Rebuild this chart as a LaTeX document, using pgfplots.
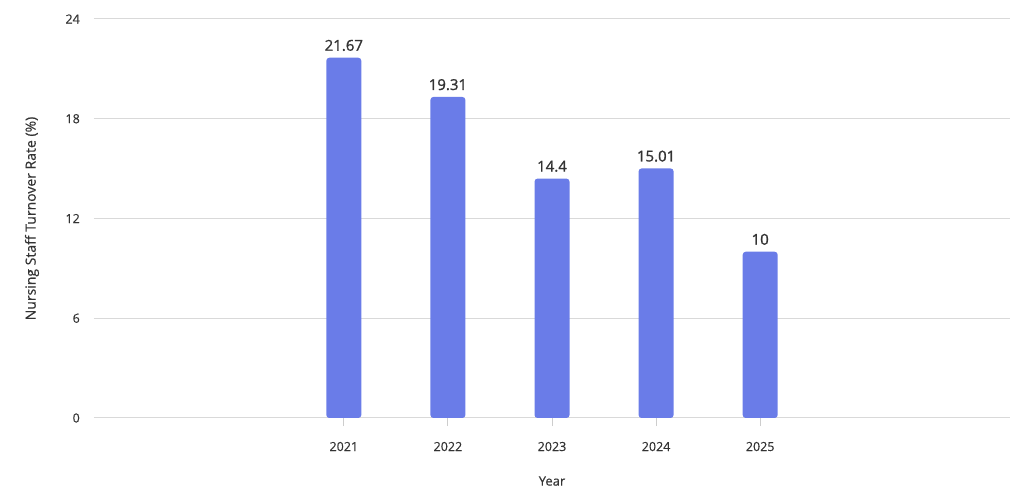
\documentclass[border=0pt]{standalone}
\usepackage{fontspec}
\setmainfont{Open Sans}
\newfontfamily\sbfont{Open Sans}[FakeBold=1.2]
\newfontfamily\mdfont{Open Sans}[FakeBold=0.4]
\usepackage{pgfplots}
\pgfplotsset{compat=1.18}
\definecolor{barblue}{RGB}{106,124,232}
\definecolor{gridgray}{RGB}{217,217,217}
\definecolor{tickgray}{RGB}{205,205,205}
\definecolor{txt}{RGB}{51,51,51}
\begin{document}
\begin{tikzpicture}
\path[use as bounding box] (-94pt,-76pt) rectangle (930pt,418pt);
\begin{axis}[
  at={(0,0)}, anchor=south west,
  scale only axis, width=916pt, height=399pt,
  xmin=-2.4, xmax=6.4, ymin=0, ymax=24,
  ytick={0,6,12,18,24},
  xtick={0,1,2,3,4},
  xticklabels={2021,2022,2023,2024,2025},
  axis x line*=bottom, axis y line*=left,
  y axis line style={draw=none},
  x axis line style={draw=gridgray, line width=1pt, -},
  ymajorgrids, grid style={draw=gridgray, line width=1pt},
  major y tick style={draw=none},
  major x tick style={draw=tickgray, line width=1pt, solid},
  xtick align=outside, major tick length=8pt,
  /pgf/number format/assume math mode=true,
  ticklabel style={font=\mdfont\fontsize{12.5}{14}\selectfont, text=txt},
  yticklabel style={anchor=east, inner sep=0pt, xshift=-14pt},
  xticklabel style={anchor=base, inner sep=0pt, yshift=-25pt},
  xlabel={Year}, ylabel={Nursing Staff Turnover Rate (\%)},
  xlabel style={at={(axis description cs:0.5,-0.158)}, anchor=center, font=\mdfont\fontsize{13}{15}\selectfont, text=txt},
  ylabel style={at={(axis description cs:-0.0677,0.5)}, anchor=center, font=\mdfont\fontsize{14}{16}\selectfont, text=txt},
  ybar, bar width=35pt,
  nodes near coords,
  every node near coord/.style={anchor=base, inner sep=0pt, yshift=7pt, font=\sbfont\fontsize{15}{17}\selectfont, text=txt},
  point meta=explicit symbolic,
]
\addplot[fill=barblue, draw=none, rounded corners=3pt] coordinates {
  (0,21.67) [21.67]
  (1,19.31) [19.31]
  (2,14.4) [14.4]
  (3,15.01) [15.01]
  (4,10) [10]
};
\end{axis}
\end{tikzpicture}
\end{document}
